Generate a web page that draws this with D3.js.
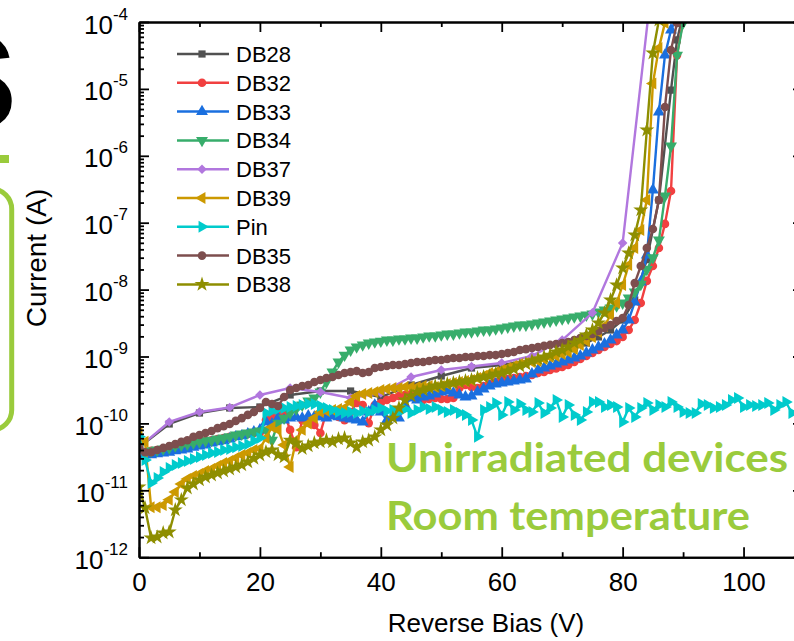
<!DOCTYPE html>
<html>
<head>
<meta charset="utf-8">
<script src="https://cdn.jsdelivr.net/npm/d3@7"></script>
<style>
  html, body { margin: 0; padding: 0; background: #fff; }
  svg { display: block; }
</style>
</head>
<body>
<script>
// reverse-bias IV sweeps, current in A, bias in V
const sweep = d3.range(0, 110); // 1 V steps of the dense sweeps

const db28Bias = [0, 5, 10, 15, 20, 25, 30, 35, 40, 45, 50, 55, 60, 65, 70, 72, 74, 76, 78, 80, 82, 84, 86, 88, 89, 90];
const db28Current = [4.4e-11, 9.8e-11, 1.43e-10, 1.70e-10, 1.76e-10, 2.66e-10, 3.05e-10, 3.05e-10, 2.48e-10, 3.75e-10,
  5.11e-10, 6.73e-10, 7.46e-10, 8.87e-10, 1.17e-9, 1.34e-9, 1.59e-9, 1.96e-9, 2.49e-9, 3.51e-9,
  6.99e-9, 2.8e-8, 2.18e-7, 9.6e-6, 5.4e-5, 1.3e-4];

const db32Current = [
  4.4e-11, 3.7e-11, 3.9e-11, 4.0e-11, 4.15e-11, 4.3e-11, 4.4e-11, 4.6e-11, 4.75e-11, 5.1e-11,
  5.3e-11, 5.5e-11, 5.6e-11, 5.85e-11, 6.05e-11, 6.3e-11, 6.5e-11, 6.7e-11, 6.95e-11, 7.2e-11,
  7.3e-11, 1.12e-10, 1.25e-10, 1.34e-10, 1.43e-10, 8.0e-11, 4.4e-11, 1.12e-10, 1.2e-10, 9.5e-11,
  7.2e-11, 1.48e-10, 1.38e-10, 1.25e-10, 1.12e-10, 1.48e-10, 2.02e-10, 1.88e-10, 1.01e-10, 1.88e-10,
  2.02e-10, 2.24e-10, 2.40e-10, 2.57e-10, 2.66e-10, 2.75e-10, 2.48e-10, 2.24e-10, 2.32e-10, 2.40e-10,
  2.32e-10, 2.32e-10, 2.40e-10, 3.38e-10, 3.75e-10, 3.5e-10, 3.38e-10, 3.62e-10, 3.88e-10, 4.16e-10,
  4.46e-10, 4.62e-10, 4.78e-10, 4.94e-10, 5.11e-10, 5.29e-10, 5.67e-10, 5.87e-10, 6.29e-10, 6.6e-10,
  6.97e-10, 7.46e-10, 8.28e-10, 9.18e-10, 1.02e-9, 1.13e-9, 1.25e-9, 1.39e-9, 1.54e-9, 1.70e-9,
  1.96e-9, 2.49e-9, 3.51e-9, 6.3e-9, 1.35e-8, 2.25e-8, 4.18e-8, 9.6e-8, 2.98e-7, 3.2e-5,
  1.07e-4];

const db33Current = [
  4.4e-11, 3.4e-11, 3.4e-11, 3.5e-11, 3.6e-11, 3.7e-11, 3.9e-11, 4.0e-11, 4.15e-11, 4.4e-11,
  4.6e-11, 4.75e-11, 5.1e-11, 5.3e-11, 5.5e-11, 5.85e-11, 6.3e-11, 6.5e-11, 6.95e-11, 7.45e-11,
  8.0e-11, 1.05e-10, 9.8e-11, 1.2e-10, 1.12e-10, 1.2e-10, 1.25e-10, 1.2e-10, 1.29e-10, 1.25e-10,
  1.25e-10, 1.2e-10, 1.29e-10, 1.25e-10, 1.2e-10, 1.16e-10, 1.12e-10, 1.05e-10, 1.48e-10, 1.88e-10,
  1.48e-10, 1.12e-10, 1.25e-10, 1.2e-10, 1.88e-10, 2.40e-10, 2.24e-10, 2.48e-10, 2.57e-10, 2.75e-10,
  2.95e-10, 3.05e-10, 2.85e-10, 2.66e-10, 2.48e-10, 2.57e-10, 2.95e-10, 3.27e-10, 3.62e-10, 3.88e-10,
  4.02e-10, 4.16e-10, 4.31e-10, 4.46e-10, 4.62e-10, 5.48e-10, 6.29e-10, 6.73e-10, 7.21e-10, 7.73e-10,
  8.28e-10, 8.87e-10, 9.5e-10, 1.02e-9, 1.13e-9, 1.25e-9, 1.39e-9, 1.54e-9, 1.76e-9, 2.10e-9,
  2.49e-9, 3.51e-9, 6.5e-9, 1.30e-8, 3.29e-8, 3.08e-7, 4.52e-6, 3.2e-5, 7.6e-5, 1.2e-4];

const db34Current = [
  4.4e-11, 3.7e-11, 3.9e-11, 4.0e-11, 4.15e-11, 4.3e-11, 4.6e-11, 4.75e-11, 4.9e-11, 5.1e-11,
  5.3e-11, 5.5e-11, 5.6e-11, 5.85e-11, 6.05e-11, 6.3e-11, 6.7e-11, 6.95e-11, 7.2e-11, 7.45e-11,
  7.7e-11, 8.0e-11, 5.6e-11, 1.01e-10, 1.2e-10, 1.43e-10, 1.64e-10, 1.88e-10, 2.16e-10, 2.40e-10,
  2.95e-10, 4.16e-10, 5.87e-10, 8.28e-10, 1.05e-9, 1.25e-9, 1.39e-9, 1.49e-9, 1.59e-9, 1.65e-9,
  1.70e-9, 1.76e-9, 1.76e-9, 1.83e-9, 1.83e-9, 1.89e-9, 1.89e-9, 1.96e-9, 2.03e-9, 2.03e-9,
  2.10e-9, 2.17e-9, 2.17e-9, 2.25e-9, 2.33e-9, 2.33e-9, 2.41e-9, 2.49e-9, 2.49e-9, 2.58e-9,
  2.67e-9, 2.76e-9, 2.86e-9, 2.96e-9, 2.96e-9, 3.06e-9, 3.17e-9, 3.28e-9, 3.39e-9, 3.51e-9,
  3.64e-9, 3.76e-9, 3.90e-9, 4.03e-9, 4.17e-9, 4.32e-9, 4.63e-9, 4.96e-9, 5.3e-9, 5.7e-9,
  6.3e-9, 7.5e-9, 9.2e-9, 1.2e-8, 2.0e-8, 3.0e-8, 5.5e-8, 2.5e-7, 1.4e-6, 3.2e-5,
  9.7e-5];

const db37Bias = [0, 5, 10, 15, 20, 25, 30, 35, 40, 45, 50, 55, 60, 65, 70, 75, 80, 85];
const db37Current = [4.4e-11, 1.05e-10, 1.48e-10, 1.73e-10, 2.66e-10, 3.38e-10, 2.95e-10, 2.40e-10, 2.85e-10, 4.94e-10,
  6.29e-10, 7.1e-10, 8.0e-10, 1.02e-9, 1.76e-9, 4.5e-9, 4.97e-8, 5e-4];

const db39Current = [
  7.2e-11, 5.3e-11, 5.6e-12, 5.6e-12, 6.0e-12, 7.2e-12, 9.45e-12, 1.24e-11, 1.48e-11, 1.64e-11,
  1.75e-11, 1.94e-11, 2.08e-11, 2.31e-11, 2.56e-11, 2.74e-11, 3.04e-11, 3.37e-11, 3.61e-11, 4.0e-11,
  4.2e-11, 6.05e-11, 8.85e-11, 8.0e-11, 4.75e-11, 2.23e-11, 5.6e-11, 8.0e-11, 1.0e-10, 1.2e-10,
  1.48e-10, 1.53e-10, 1.59e-10, 1.64e-10, 1.70e-10, 2.09e-10, 2.57e-10, 2.75e-10, 2.85e-10, 2.95e-10,
  3.16e-10, 3.27e-10, 3.38e-10, 3.38e-10, 3.5e-10, 3.5e-10, 3.5e-10, 3.62e-10, 3.62e-10, 3.5e-10,
  3.62e-10, 3.88e-10, 4.02e-10, 4.16e-10, 4.31e-10, 4.46e-10, 4.78e-10, 5.11e-10, 5.67e-10, 5.87e-10,
  6.29e-10, 6.73e-10, 7.21e-10, 7.73e-10, 8.0e-10, 8.28e-10, 8.57e-10, 9.18e-10, 9.84e-10, 1.02e-9,
  1.09e-9, 1.17e-9, 1.29e-9, 1.49e-9, 1.70e-9, 1.96e-9, 2.33e-9, 2.86e-9, 4.17e-9, 6.3e-9,
  1.17e-8, 2.33e-8, 4.18e-8, 7.8e-8, 2.18e-7, 1.2e-5, 4.1e-5, 9.7e-5];

const pinCurrent = [
  6.3e-11, 2.84e-11, 1.29e-11, 1.53e-11, 1.88e-11, 2.15e-11, 2.39e-11, 2.56e-11, 2.74e-11, 2.94e-11,
  3.15e-11, 3.37e-11, 3.61e-11, 3.74e-11, 4.0e-11, 4.15e-11, 4.4e-11, 4.6e-11, 4.9e-11, 5.5e-11,
  6.05e-11, 1.43e-10, 1.53e-10, 1.64e-10, 1.70e-10, 1.76e-10, 1.82e-10, 1.88e-10, 1.95e-10, 1.95e-10,
  1.82e-10, 1.70e-10, 1.59e-10, 1.48e-10, 1.43e-10, 1.48e-10, 1.43e-10, 1.53e-10, 1.48e-10, 1.59e-10,
  1.70e-10, 1.53e-10, 1.59e-10, 1.48e-10, 1.64e-10, 1.43e-10, 1.59e-10, 1.76e-10, 1.64e-10, 1.76e-10,
  1.59e-10, 1.48e-10, 1.59e-10, 1.43e-10, 1.34e-10, 1.12e-10, 6.3e-11, 1.59e-10, 1.76e-10, 2.02e-10,
  1.34e-10, 2.09e-10, 1.59e-10, 1.95e-10, 1.59e-10, 1.48e-10, 2.02e-10, 1.43e-10, 1.70e-10, 2.24e-10,
  1.25e-10, 1.88e-10, 1.34e-10, 1.12e-10, 1.48e-10, 2.09e-10, 2.09e-10, 1.76e-10, 1.88e-10, 1.76e-10,
  1.05e-10, 1.70e-10, 1.25e-10, 1.70e-10, 2.02e-10, 1.59e-10, 1.88e-10, 1.76e-10, 2.09e-10, 1.76e-10,
  1.48e-10, 1.43e-10, 1.43e-10, 1.95e-10, 1.88e-10, 1.70e-10, 1.76e-10, 1.88e-10, 2.24e-10, 2.40e-10,
  1.76e-10, 1.88e-10, 1.82e-10, 1.88e-10, 2.02e-10, 1.59e-10, 1.88e-10, 2.09e-10, 1.43e-10, 1.70e-10];

const db35Current = [
  4.4e-11, 3.7e-11, 3.7e-11, 4.0e-11, 4.3e-11, 4.6e-11, 4.9e-11, 5.3e-11, 5.6e-11, 6.3e-11,
  6.7e-11, 7.2e-11, 7.7e-11, 8.5e-11, 9.1e-11, 9.8e-11, 1.09e-10, 1.20e-10, 1.34e-10, 1.48e-10,
  1.70e-10, 2.09e-10, 1.95e-10, 1.82e-10, 2.48e-10, 3.16e-10, 3.38e-10, 3.62e-10, 3.75e-10, 4.16e-10,
  4.46e-10, 4.78e-10, 4.94e-10, 5.29e-10, 5.67e-10, 5.87e-10, 6.07e-10, 5.67e-10, 5.87e-10, 6.73e-10,
  6.97e-10, 7.21e-10, 7.46e-10, 7.46e-10, 7.73e-10, 8.0e-10, 8.28e-10, 8.28e-10, 8.57e-10, 8.87e-10,
  8.87e-10, 9.18e-10, 9.5e-10, 9.5e-10, 9.84e-10, 9.84e-10, 1.02e-9, 1.02e-9, 1.05e-9, 1.05e-9,
  1.09e-9, 1.13e-9, 1.17e-9, 1.25e-9, 1.29e-9, 1.34e-9, 1.39e-9, 1.44e-9, 1.49e-9, 1.54e-9,
  1.59e-9, 1.65e-9, 1.76e-9, 1.89e-9, 2.03e-9, 2.17e-9, 2.41e-9, 2.67e-9, 2.96e-9, 3.39e-9,
  3.76e-9, 5.9e-9, 1.25e-8, 2.25e-8, 4.18e-8, 8.05e-8, 2.18e-7, 5.36e-6, 3.81e-5, 9.7e-5];

const db38Current = [
  1.12e-11, 5.45e-12, 1.94e-12, 2.0e-12, 2.3e-12, 2.38e-12, 5.08e-12, 7.2e-12, 1.08e-11, 1.24e-11,
  1.43e-11, 1.58e-11, 1.69e-11, 1.81e-11, 1.94e-11, 2.08e-11, 2.23e-11, 2.39e-11, 2.65e-11, 3.0e-11,
  3.37e-11, 3.74e-11, 4.0e-11, 3.4e-11, 3.15e-11, 5.6e-11, 5.1e-11, 4.2e-11, 4.6e-11, 5.1e-11,
  5.3e-11, 5.6e-11, 5.3e-11, 5.85e-11, 6.05e-11, 5.1e-11, 4.4e-11, 5.3e-11, 5.6e-11, 6.3e-11,
  8.0e-11, 9.46e-11, 1.2e-10, 1.70e-10, 2.24e-10, 2.57e-10, 2.95e-10, 3.16e-10, 3.38e-10, 3.62e-10,
  3.75e-10, 3.88e-10, 4.02e-10, 4.16e-10, 4.31e-10, 4.46e-10, 4.78e-10, 4.94e-10, 5.11e-10, 5.48e-10,
  5.67e-10, 6.07e-10, 6.5e-10, 7.21e-10, 7.73e-10, 8.57e-10, 9.18e-10, 9.84e-10, 1.05e-9, 1.17e-9,
  1.25e-9, 1.39e-9, 1.59e-9, 1.76e-9, 2.10e-9, 2.49e-9, 3.17e-9, 4.47e-9, 6.99e-9, 1.17e-8,
  2.1e-8, 3.52e-8, 6.55e-8, 1.55e-7, 2.43e-6, 3.44e-5, 1.07e-4];

const seriesNames = ["DB28", "DB32", "DB33", "DB34", "DB37", "DB39", "Pin", "DB35", "DB38"];
const seriesBias = [db28Bias, sweep, sweep, sweep, db37Bias, sweep, sweep, sweep, sweep];
const seriesCurrent = [db28Current, db32Current, db33Current, db34Current, db37Current,
  db39Current, pinCurrent, db35Current, db38Current];

const xTicks = [0, 20, 40, 60, 80, 100];
const yDecades = [1e-12, 1e-11, 1e-10, 1e-9, 1e-8, 1e-7, 1e-6, 1e-5, 1e-4];
const note = ["Unirradiated devices", "Room temperature"];

// ---- look ----
const colors = ["#515151", "#F14040", "#1A6FDF", "#37AD6B", "#B177DE", "#CC9900", "#00CBCC", "#7D4E4E", "#8E8E00"];
// symbol type, area, rotation
const markers = [
  [d3.symbolSquare, 52, 0],
  [d3.symbolCircle, 58, 0],
  [d3.symbolTriangle, 62, 0],
  [d3.symbolTriangle, 62, 180],
  [d3.symbolSquare, 46, 45],
  [d3.symbolTriangle, 62, -90],
  [d3.symbolTriangle, 62, 90],
  [d3.symbolCircle, 58, 0],
  [d3.symbolStar, 70, 0]
];
const font = "'Liberation Sans', Arial, sans-serif";
const green = "#9ACB3C";

const W = 794, H = 641;
const x = d3.scaleLinear().domain([0, 110]).range([139, 804]);
const y = d3.scaleLog().domain([1e-12, 1e-4]).range([557.2, 22]);

const svg = d3.select("body").append("svg")
  .attr("width", W).attr("height", H)
  .style("background", "#fff");

// leftovers of the neighbouring panel
svg.append("text")
  .attr("x", 19).attr("y", 129)
  .attr("text-anchor", "end")
  .style("font-family", font).style("font-weight", "bold").style("font-size", "180px")
  .attr("fill", "#000")
  .text("s");
svg.append("rect").attr("x", 0).attr("y", 155).attr("width", 9).attr("height", 8).attr("fill", green);
svg.append("path")
  .attr("d", "M-30,189 H-8 A20,20 0 0 1 11.7,209 V410 A20,20 0 0 1 -8,430 H-30")
  .attr("fill", "none").attr("stroke", green).attr("stroke-width", 5);

svg.append("clipPath").attr("id", "plot")
  .append("rect").attr("x", 139).attr("y", 22).attr("width", 665).attr("height", 535.2);

const plot = svg.append("g").attr("clip-path", "url(#plot)");

function symbolPath(i) {
  return d3.symbol().type(markers[i][0]).size(markers[i][1])();
}

seriesNames.forEach((name, i) => {
  const pts = seriesCurrent[i].map((c, k) => [seriesBias[i][k], c]);
  const g = plot.append("g");
  g.append("path")
    .datum(pts)
    .attr("fill", "none")
    .attr("stroke", colors[i])
    .attr("stroke-width", 2.4)
    .attr("stroke-linejoin", "round")
    .attr("d", d3.line().x(d => x(d[0])).y(d => y(d[1])));
  g.selectAll("path.m")
    .data(pts)
    .enter().append("path")
    .attr("class", "m")
    .attr("d", symbolPath(i))
    .attr("fill", colors[i])
    .attr("transform", d => "translate(" + x(d[0]) + "," + y(d[1]) + ") rotate(" + markers[i][2] + ")");
});

// ---- axes ----
const minors = [];
yDecades.slice(0, -1).forEach(d => { for (let k = 2; k < 10; k++) minors.push(d * k); });

function styleAxis(g) {
  g.select(".domain").attr("stroke", "#000").attr("stroke-width", 2);
  g.selectAll(".tick line").attr("stroke", "#000").attr("stroke-width", 1.8);
}

const gLeft = svg.append("g").attr("transform", "translate(139,0)")
  .call(d3.axisLeft(y).tickValues(yDecades).tickSizeInner(-10).tickSizeOuter(0).tickFormat(""))
  .call(styleAxis);
svg.append("g").attr("transform", "translate(139,0)")
  .call(d3.axisLeft(y).tickValues(minors).tickSizeInner(-5).tickSizeOuter(0).tickFormat(""))
  .call(styleAxis);
svg.append("g").attr("transform", "translate(804,0)")
  .call(d3.axisRight(y).tickValues(yDecades).tickSizeInner(-11).tickSizeOuter(0).tickFormat(""))
  .call(styleAxis);

gLeft.selectAll(".tick").append("text")
  .attr("x", -11).attr("y", 11)
  .attr("text-anchor", "end")
  .attr("fill", "#000")
  .style("font-family", font).style("font-size", "26px")
  .each(function(d) {
    const t = d3.select(this);
    t.append("tspan").text("10");
    t.append("tspan").attr("dy", -14).style("font-size", "17px").text(Math.round(Math.log10(d)));
  });

const xMinors = [10, 30, 50, 70, 90];
const gBottom = svg.append("g").attr("transform", "translate(0,557.2)")
  .call(d3.axisBottom(x).tickValues(xTicks).tickSizeInner(-10).tickSizeOuter(0).tickPadding(15))
  .call(styleAxis);
gBottom.selectAll(".tick text")
  .attr("fill", "#000")
  .style("font-family", font).style("font-size", "26px");
svg.append("g").attr("transform", "translate(0,557.2)")
  .call(d3.axisBottom(x).tickValues(xMinors).tickSizeInner(-5).tickSizeOuter(0).tickFormat(""))
  .call(styleAxis);
svg.append("g").attr("transform", "translate(0,22)")
  .call(d3.axisTop(x).tickValues(xTicks).tickSizeInner(-10).tickSizeOuter(0).tickFormat(""))
  .call(styleAxis);
svg.append("g").attr("transform", "translate(0,22)")
  .call(d3.axisTop(x).tickValues(xMinors).tickSizeInner(-5).tickSizeOuter(0).tickFormat(""))
  .call(styleAxis);

// axis titles
svg.append("text")
  .attr("x", 486).attr("y", 632)
  .attr("text-anchor", "middle")
  .style("font-family", font).style("font-size", "26px")
  .text("Reverse Bias (V)");
svg.append("text")
  .attr("transform", "translate(46,258) rotate(-90)")
  .attr("text-anchor", "middle")
  .style("font-family", font).style("font-size", "28px")
  .text("Current (A)");

// ---- legend ----
const legend = svg.append("g");
seriesNames.forEach((name, i) => {
  const ly = 54 + i * 28.8;
  legend.append("line")
    .attr("x1", 177).attr("x2", 229).attr("y1", ly).attr("y2", ly)
    .attr("stroke", colors[i]).attr("stroke-width", 2.5);
  legend.append("path")
    .attr("d", symbolPath(i))
    .attr("fill", colors[i])
    .attr("transform", "translate(202," + ly + ") rotate(" + markers[i][2] + ")");
  legend.append("text")
    .attr("x", 236).attr("y", ly + 8)
    .style("font-family", font).style("font-size", "22px")
    .text(name);
});

// ---- annotation ----
svg.append("text")
  .attr("x", 386).attr("y", 472)
  .attr("textLength", 402).attr("lengthAdjust", "spacingAndGlyphs")
  .attr("fill", green)
  .style("font-family", "Lato, 'Open Sans', sans-serif").style("font-weight", 700).style("font-size", "40px")
  .text(note[0]);
svg.append("text")
  .attr("x", 386).attr("y", 530)
  .attr("textLength", 364).attr("lengthAdjust", "spacingAndGlyphs")
  .attr("fill", green)
  .style("font-family", "Lato, 'Open Sans', sans-serif").style("font-weight", 700).style("font-size", "40px")
  .text(note[1]);
</script>
</body>
</html>
